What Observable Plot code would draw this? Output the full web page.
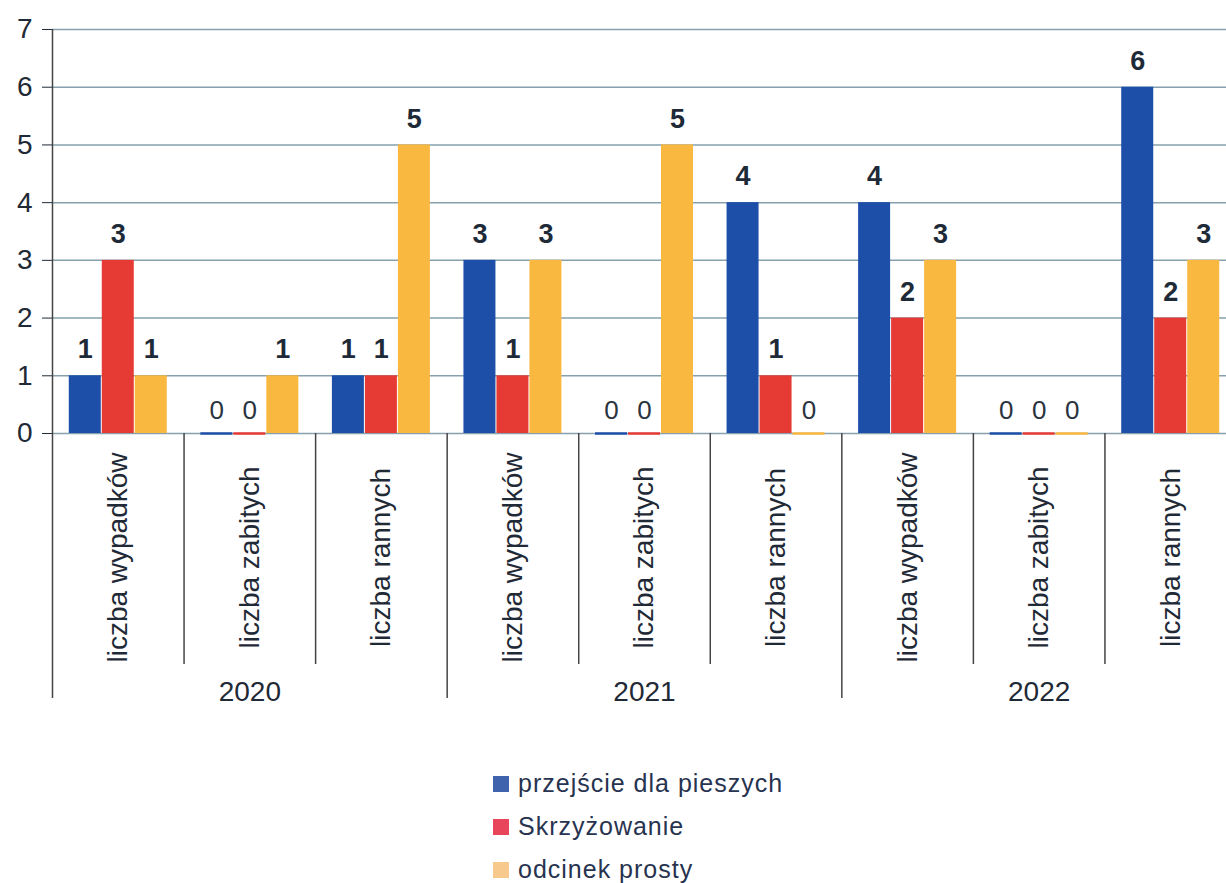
<!DOCTYPE html>
<html><head><meta charset="utf-8">
<script src="https://cdn.jsdelivr.net/npm/d3@7"></script>
<script src="https://cdn.jsdelivr.net/npm/@observablehq/plot@0.6"></script>
<style>
html,body{margin:0;padding:0;background:#fff;width:1226px;height:883px;overflow:hidden;}
#chart{position:absolute;left:0;top:0;width:1240px;}
#chart svg{overflow:hidden;max-width:none !important;}
#chart [aria-label^="y-axis"] text{font-size:28px;fill:#1f2a36;font-family:"Liberation Sans",Arial,sans-serif;}
#chart [aria-label="category-label"] text{letter-spacing:1.2px;}
#legend{position:absolute;left:493px;top:762px;font-family:"Liberation Sans",Arial,sans-serif;font-size:25px;color:#27334f;letter-spacing:1px;}
.row{display:flex;align-items:center;height:43px;white-space:nowrap;}
.sw{width:16px;height:16px;margin-right:9px;flex:none;}
</style></head><body>
<div id="chart"></div><div id="legend"></div>
<script>
const years = ["2020","2021","2022"];
const metrics = ["liczba wypadków","liczba zabitych","liczba rannych"];
const series = ["przejście dla pieszych","Skrzyżowanie","odcinek prosty"];
const przejscie    = [1,0,1, 3,0,4, 4,0,6];
const skrzyzowanie = [3,0,1, 1,0,1, 2,0,2];
const odcinek      = [1,1,5, 3,5,0, 3,0,3];
const colors = ["#1d4fa8","#e63b34","#f9b840"];
const legendColors = ["#3f63ad","#e8455a","#f8c98c"];
const yTicks = [0,1,2,3,4,5,6,7];

const W = 1236, H = 745, ML = 52, MR = 0, MT = 29, MB = 47;
const Y0 = 433;
const keys = years.flatMap(y => metrics.map(m => y + "|" + m));
const values = [przejscie, skrzyzowanie, odcinek];
const data = keys.flatMap((k, i) => series.map((s, j) => ({group: k, series: s, j, value: values[j][i]})));
const step = (W - ML - MR) / keys.length;
const barW = 33;
const inset = (step - barW) / 2 + 0.5;
const font = "Liberation Sans, Arial, sans-serif";

const marks = [
  Plot.ruleY(yTicks, {stroke: "#86a0ae", strokeWidth: 1.5})
];
series.forEach((s, j) => {
  const d = data.filter(r => r.j === j);
  marks.push(Plot.barY(d, {x: "group", y: "value", fill: colors[j], insetLeft: inset, insetRight: inset, dx: (j - 1) * barW}));
  marks.push(Plot.tickY(d.filter(r => r.value === 0), {x: "group", y: "value", stroke: colors[j], strokeWidth: 2.5, insetLeft: inset, insetRight: inset, dx: (j - 1) * barW}));
  marks.push(Plot.text(d.filter(r => r.value !== 0), {x: "group", y: "value", text: r => String(r.value), dx: (j - 1) * barW, dy: -26, fontSize: 27, fontWeight: "bold", fill: "#1e2a38", fontFamily: font}));
  marks.push(Plot.text(d.filter(r => r.value === 0), {x: "group", y: "value", text: r => String(r.value), dx: (j - 1) * barW, dy: -23, fontSize: 26, fill: "#2a3340", fontFamily: font}));
});
// separators: axis line, year boundaries and category boundaries below the axis
const yearStarts = keys.filter((k, i) => i % 3 === 0);
const innerStarts = keys.filter((k, i) => i % 3 !== 0);
marks.push(Plot.ruleX([yearStarts[0]], {x: d => d, dx: -step / 2, stroke: "#444", strokeWidth: 1.5}));
marks.push(Plot.ruleX(yearStarts.slice(1), {x: d => d, insetTop: Y0 - MT, dx: -step / 2, stroke: "#444", strokeWidth: 1.5}));
marks.push(Plot.ruleX(innerStarts, {x: d => d, insetTop: Y0 - MT, insetBottom: 34, dx: -step / 2, stroke: "#444", strokeWidth: 1.5}));
// category labels
marks.push(Plot.text(keys, {x: d => d, text: d => d.split("|")[1], frameAnchor: "bottom", rotate: -90, textAnchor: "middle", lineAnchor: "middle", dy: -141, fontSize: 28, fill: "#1f2a36", fontFamily: font, ariaLabel: "category-label"}));
// year labels
marks.push(Plot.text(years, {x: y => y + "|" + metrics[1], text: y => y, frameAnchor: "bottom", lineAnchor: "middle", dy: -6, fontSize: 28, fill: "#1f2a36", fontFamily: font}));

const chart = Plot.plot({
  width: W, height: H, marginLeft: ML, marginRight: MR, marginTop: MT, marginBottom: MB,
  style: {background: "#fff", color: "#1f2a36"},
  x: {domain: keys, padding: 0, round: false, axis: null},
  y: {domain: [0, 7], range: [Y0, MT], ticks: yTicks, tickSize: 10, tickPadding: 10, label: null, tickFormat: d => String(d)},
  marks
});
document.getElementById("chart").appendChild(chart);

const legend = document.getElementById("legend");
series.forEach((s, j) => {
  const row = document.createElement("div");
  row.className = "row";
  const sw = document.createElement("span");
  sw.className = "sw";
  sw.style.background = legendColors[j];
  const t = document.createElement("span");
  t.textContent = s;
  row.appendChild(sw); row.appendChild(t);
  legend.appendChild(row);
});
</script>
</body></html>
